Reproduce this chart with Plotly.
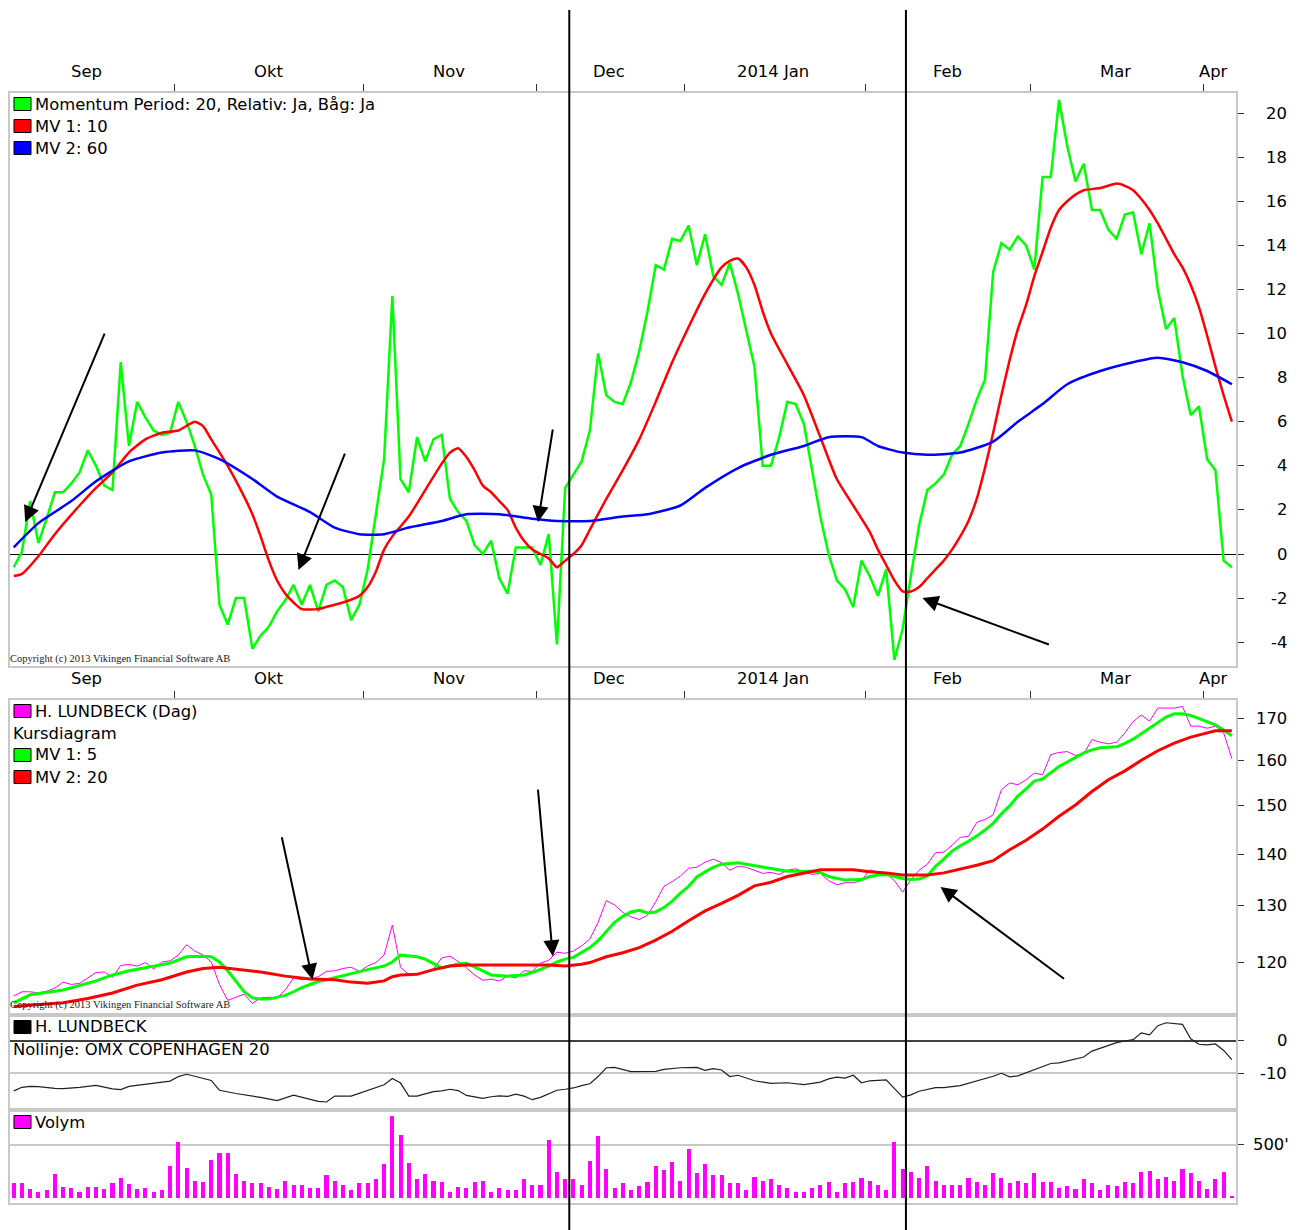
import numpy as np
import plotly.graph_objects as go

# page is rendered with an 8px body margin: figure origin sits at page (8, 8)
OFF = 8
W, H = 1292, 1222

# ---------------- data ----------------
days = list(range(149))

momentum = [-0.6, 0.1, 2.4, 0.5, 1.6, 2.8, 2.8, 3.2, 3.7, 4.7, 4.0, 3.1, 2.9, 8.7, 4.9, 6.9, 6.2, 5.6, 5.4, 5.5,
            6.9, 6.0, 4.9, 3.6, 2.7, -2.3, -3.2, -2.0, -2.0, -4.3, -3.7, -3.3, -2.6, -2.1, -1.4, -2.3, -1.4, -2.6,
            -1.4, -1.2, -1.5, -3.0, -2.3, -0.7, 1.8, 4.3, 11.7, 3.4, 2.8, 5.3, 4.2, 5.2, 5.4, 2.5, 1.9, 1.5, 0.4,
            0.0, 0.6, -1.1, -1.8, 0.3, 0.3, 0.3, -0.5, 0.9, -4.1, 3.0, 3.6, 4.2, 5.6, 9.1, 7.2, 6.9, 6.8, 7.8, 9.2,
            11.0, 13.1, 12.9, 14.3, 14.2, 14.9, 13.1, 14.5, 12.6, 12.2, 13.2, 11.8, 10.2, 8.5, 4.0, 4.0, 5.3, 6.9,
            6.8, 5.9, 3.8, 1.7, 0.0, -1.2, -1.6, -2.4, -0.3, -1.0, -1.9, -0.7, -4.8, -3.4, -1.0, 1.3, 2.9, 3.2, 3.6,
            4.5, 4.9, 5.9, 7.0, 7.9, 12.8, 14.1, 13.8, 14.4, 14.0, 12.9, 17.1, 17.1, 20.6, 18.5, 16.9, 17.7, 15.6,
            15.6, 14.7, 14.3, 15.4, 15.5, 13.6, 15.0, 12.0, 10.2, 10.7, 8.1, 6.3, 6.7, 4.3, 3.8, -0.3, -0.6]

mom_ma10_days = [0, 1, 3, 5, 8, 10, 12, 14, 16, 18, 20, 22, 23, 24, 26, 28, 29, 30, 31, 32, 33, 34, 35, 37, 38,
                 40, 42, 43, 44, 45, 46, 48, 50, 52, 53, 54, 55, 56, 57, 58, 59, 60, 61, 62, 63, 65, 66, 67, 68,
                 69, 70, 72, 74, 76, 78, 80, 82, 84, 86, 87, 88, 89, 90, 91, 92, 94, 96, 98, 100, 102, 104, 105,
                 106, 107, 108, 109, 110, 111, 112, 113, 114, 115, 116, 117, 118, 119, 120, 121, 122, 123, 124,
                 125, 126, 127, 128, 129, 130, 132, 134, 135, 136, 137, 138, 139, 140, 141, 142, 143, 144, 145,
                 146, 147, 148]
mom_ma10 = [-1.0, -0.9, -0.1, 0.9, 2.2, 3.0, 3.7, 4.6, 5.2, 5.5, 5.6, 6.0, 5.8, 5.2, 4.0, 2.6, 1.8, 0.8, -0.3,
            -1.2, -1.8, -2.2, -2.5, -2.5, -2.4, -2.2, -1.9, -1.5, -0.8, 0.2, 0.8, 1.7, 2.9, 4.1, 4.6, 4.8, 4.4,
            3.8, 3.1, 2.8, 2.4, 2.0, 1.2, 0.6, 0.2, -0.2, -0.6, -0.3, 0.0, 0.4, 1.1, 2.5, 3.8, 5.2, 6.9, 8.7,
            10.3, 11.8, 13.0, 13.3, 13.4, 13.0, 12.2, 11.0, 10.0, 8.6, 7.2, 5.3, 3.4, 2.2, 1.0, 0.2, -0.5, -1.2,
            -1.7, -1.7, -1.5, -1.1, -0.7, -0.3, 0.2, 0.8, 1.5, 2.5, 3.9, 5.5, 7.2, 8.8, 10.2, 11.3, 12.6, 13.7,
            14.8, 15.6, 16.0, 16.3, 16.5, 16.6, 16.8, 16.7, 16.5, 16.1, 15.6, 15.0, 14.3, 13.6, 13.0, 12.2,
            11.2, 9.9, 8.5, 7.2, 6.0]

mom_ma60_days = [0, 3, 7, 10, 14, 18, 22, 25, 29, 32, 36, 39, 42, 45, 48, 52, 55, 59, 63, 66, 70, 74, 77, 81,
                 84, 88, 92, 96, 99, 103, 105, 108, 111, 115, 119, 122, 125, 128, 132, 136, 139, 142, 145, 148]
mom_ma60 = [0.3, 1.4, 2.4, 3.3, 4.2, 4.6, 4.7, 4.3, 3.4, 2.6, 1.9, 1.2, 0.9, 0.9, 1.2, 1.5, 1.8, 1.8, 1.6, 1.5,
            1.5, 1.7, 1.8, 2.2, 3.0, 3.9, 4.5, 4.9, 5.3, 5.3, 4.9, 4.6, 4.5, 4.6, 5.1, 6.0, 6.8, 7.7, 8.3, 8.7,
            8.9, 8.7, 8.3, 7.7]

close = [114.3, 115.0, 115.0, 114.8, 115.1, 115.6, 116.6, 116.2, 116.4, 117.3, 118.2, 118.3, 117.4, 119.4,
         119.6, 119.3, 119.9, 118.8, 120.0, 120.2, 121.2, 123.0, 121.9, 121.2, 120.0, 116.2, 113.6, 114.1,
         114.6, 113.1, 114.0, 114.1, 114.0, 115.3, 117.3, 117.0, 117.1, 117.5, 118.4, 118.5, 118.9, 119.1,
         118.4, 119.3, 119.9, 121.2, 126.5, 119.1, 117.9, 118.0, 118.3, 118.8, 120.7, 121.0, 120.1, 119.0,
         117.8, 116.9, 117.1, 116.8, 117.6, 117.3, 118.5, 118.4, 119.8, 120.3, 121.7, 121.5, 121.9, 122.8,
         124.0, 127.0, 131.0, 130.2, 128.8, 128.0, 127.5, 128.3, 130.8, 133.7, 134.6, 135.7, 137.2, 137.4,
         138.4, 139.0, 138.3, 136.8, 137.6, 137.4, 136.8, 136.2, 136.4, 136.0, 136.8, 137.1, 136.5, 136.0,
         136.2, 134.8, 134.0, 134.4, 134.4, 134.8, 136.9, 136.4, 136.2, 134.8, 132.6, 135.0, 136.8, 138.0,
         140.3, 140.4, 141.8, 143.4, 143.6, 146.5, 147.1, 148.1, 153.5, 155.0, 154.6, 155.7, 157.2, 156.8,
         161.4, 161.9, 162.1, 161.2, 161.6, 164.9, 164.3, 163.9, 164.3, 166.5, 169.2, 170.8, 169.3, 172.5,
         172.5, 172.5, 172.9, 168.1, 168.1, 167.6, 168.1, 166.5, 160.5]

ma5_days = [0, 2, 6, 8, 10, 12, 14, 16, 18, 19, 21, 23, 24, 25, 26, 27, 28, 29, 30, 31, 32, 33, 34, 35, 36, 37,
            38, 40, 41, 43, 45, 46, 47, 48, 49, 50, 51, 52, 53, 54, 55, 56, 57, 58, 59, 60, 61, 62, 63, 64, 65,
            66, 67, 68, 69, 70, 71, 72, 73, 74, 75, 76, 77, 78, 79, 80, 81, 82, 83, 84, 85, 86, 88, 89, 90, 92,
            94, 97, 98, 99, 100, 101, 103, 104, 105, 106, 107, 108, 109, 110, 111, 112, 113, 114, 115, 116,
            117, 118, 119, 120, 121, 122, 123, 124, 125, 126, 127, 128, 129, 130, 131, 132, 134, 135, 136,
            137, 138, 139, 140, 141, 142, 143, 144, 145, 146, 147, 148]
ma5 = [113.2, 114.5, 115.3, 116.0, 116.8, 117.8, 118.5, 119.0, 119.5, 119.8, 120.9, 121.0, 120.9, 120.0,
       118.5, 116.7, 115.0, 114.0, 113.8, 113.8, 114.1, 114.4, 115.0, 115.7, 116.2, 116.7, 117.0, 117.7,
       118.0, 118.7, 119.3, 120.0, 121.2, 121.1, 120.9, 120.5, 119.8, 119.0, 119.3, 119.7, 119.8, 119.2,
       118.5, 117.8, 117.7, 117.6, 117.7, 117.8, 118.2, 118.7, 119.3, 120.0, 120.5, 120.8, 121.7, 122.5,
       123.7, 125.4, 127.0, 128.1, 128.9, 129.2, 128.7, 128.9, 129.7, 130.9, 132.4, 133.7, 135.5, 136.5,
       137.4, 138.0, 138.3, 138.0, 137.7, 137.1, 136.6, 136.6, 136.4, 135.6, 135.2, 134.9, 135.0, 135.6,
       135.9, 136.0, 135.6, 135.2, 135.0, 135.1, 135.7, 137.6, 139.0, 140.6, 141.7, 142.6, 143.7, 144.9,
       146.3, 148.3, 150.0, 152.1, 153.7, 155.4, 155.9, 157.2, 158.7, 159.7, 160.7, 161.8, 162.5, 163.0,
       163.2, 164.0, 165.0, 166.3, 167.6, 169.1, 170.3, 171.1, 171.1, 170.7, 169.9, 169.1, 168.4, 167.2,
       165.8]

ma20_days = [0, 3, 6, 9, 12, 15, 18, 21, 23, 25, 27, 30, 33, 36, 39, 41, 43, 45, 46, 47, 49, 51, 53, 55, 60,
             65, 67, 69, 70, 72, 74, 76, 78, 80, 82, 84, 86, 88, 90, 92, 94, 96, 98, 100, 102, 104, 106, 108,
             111, 113, 115, 117, 119, 121, 123, 125, 127, 129, 131, 133, 135, 137, 139, 141, 143, 145, 146, 148]
ma20 = [112.6, 112.9, 113.2, 113.9, 114.8, 116.1, 117.0, 118.3, 118.9, 119.1, 118.8, 118.3, 117.6, 117.1,
        117.0, 116.6, 116.4, 116.8, 117.5, 117.8, 117.9, 118.7, 119.3, 119.5, 119.5, 119.5, 119.3, 119.6,
        119.9, 120.9, 121.6, 122.5, 123.8, 125.4, 127.3, 129.1, 130.5, 132.0, 133.8, 134.5, 135.6, 136.3,
        136.9, 136.9, 136.9, 136.5, 136.3, 135.9, 135.9, 136.3, 137.0, 137.8, 138.7, 140.9, 142.8, 145.1,
        147.8, 150.2, 153.1, 155.7, 157.7, 160.1, 162.3, 164.1, 165.5, 166.6, 167.0, 167.0]

rel_days = [0, 1, 2, 3, 5, 6, 8, 10, 12, 13, 14, 17, 19, 20, 21, 22, 24, 25, 27, 30, 32, 34, 35, 37, 38, 39,
            41, 43, 45, 46, 47, 48, 49, 51, 52, 53, 54, 55, 57, 58, 59, 60, 61, 62, 63, 64, 65, 66, 67, 68, 69,
            70, 71, 72, 73, 75, 78, 79, 81, 83, 84, 85, 86, 87, 88, 90, 92, 94, 96, 98, 99, 100, 101, 102, 103,
            104, 106, 107, 108, 109, 110, 112, 113, 115, 116, 118, 119, 120, 121, 122, 124, 126, 127, 130, 131,
            133, 134, 135, 136, 137, 138, 139, 140, 142, 143, 144, 145, 146, 147, 148]
rel = [-15.4, -14.3, -14.0, -14.1, -14.6, -14.7, -14.3, -13.7, -14.8, -15.0, -14.0, -13.1, -12.4, -11.0,
       -10.3, -10.9, -12.2, -15.2, -16.2, -17.4, -18.4, -16.7, -17.3, -18.6, -18.8, -17.0, -17.0, -15.3,
       -13.5, -11.6, -13.0, -17.0, -17.0, -15.6, -15.4, -14.9, -15.3, -16.8, -17.7, -17.2, -16.9, -17.1,
       -16.4, -17.0, -18.1, -17.4, -16.2, -15.2, -14.9, -14.5, -13.8, -13.2, -11.0, -8.3, -8.2, -9.5, -9.4,
       -8.8, -8.3, -8.2, -9.1, -8.6, -9.0, -11.0, -10.6, -12.3, -13.1, -12.9, -13.5, -12.7, -11.7, -11.2,
       -11.5, -10.6, -12.9, -12.3, -12.0, -14.8, -17.3, -16.6, -15.5, -14.4, -14.4, -13.8, -13.1, -11.7,
       -10.9, -10.0, -11.1, -10.8, -9.0, -7.0, -6.8, -5.0, -3.2, -1.5, -0.6, -0.1, 0.3, 2.4, 1.8, 4.6, 5.5,
       5.0, 0.6, -1.1, -1.3, -1.0, -3.0, -5.8]

volume_k = [134, 143, 80, 57, 70, 223, 105, 92, 54, 105, 105, 80, 134, 184, 130, 80, 92, 57, 70, 302, 525, 277,
            159, 146, 356, 423, 423, 226, 159, 134, 134, 105, 80, 159, 121, 121, 92, 92, 210, 159, 121, 67, 134,
            134, 172, 315, 773, 591, 331, 172, 223, 159, 146, 54, 105, 92, 146, 159, 54, 92, 67, 67, 172, 121,
            121, 545, 239, 175, 175, 124, 347, 582, 267, 95, 137, 70, 111, 150, 296, 258, 334, 162, 464, 229,
            321, 216, 216, 137, 137, 70, 200, 162, 175, 124, 95, 57, 57, 95, 124, 150, 57, 137, 150, 188, 162,
            124, 70, 528, 267, 242, 188, 296, 162, 124, 124, 124, 188, 150, 124, 229, 188, 137, 162, 137, 229,
            150, 150, 95, 111, 83, 175, 137, 70, 124, 111, 150, 137, 242, 254, 175, 200, 162, 267, 229, 162, 83,
            175, 242, 13]

month_ticks = [19.5, 42.5, 63.5, 81.5, 103.5, 123.5, 144.5]
month_labels = ["Sep", "Okt", "Nov", "Dec", "2014 Jan", "Feb", "Mar", "Apr"]
month_label_pos = [8.8, 30.9, 52.9, 72.3, 92.3, 113.4, 133.8, 145.8]
signal_days = [67.5, 108.4]

mom_ticks = [-4, -2, 0, 2, 4, 6, 8, 10, 12, 14, 16, 18, 20]
price_ticks = [120, 130, 140, 150, 160, 170]
rel_ticks = [0, -10]
vol_ticks = [500]

# ---------------- helpers (page pixels -> paper fractions) ----------------
def py(p):
    return 1 - (p - OFF) / H

def pxf(p):
    return (p - OFF) / W

FONT = "DejaVu Sans"
FS = 16.4
XR = [-0.45, 148.5]
XDOM = [pxf(10), pxf(1236)]
BORDER = "#c8c8c8"
TICKC = "#303030"

fig = go.Figure()

# momentum panel
fig.add_trace(go.Scatter(x=days, y=momentum, mode="lines", line=dict(color="#00ff00", width=2.5),
                         xaxis="x", yaxis="y"))
fig.add_trace(go.Scatter(x=mom_ma10_days, y=mom_ma10, mode="lines",
                         line=dict(color="#ff0000", width=2.5, shape="spline", smoothing=0.6),
                         xaxis="x", yaxis="y"))
fig.add_trace(go.Scatter(x=mom_ma60_days, y=mom_ma60, mode="lines",
                         line=dict(color="#0000ff", width=2.5, shape="spline", smoothing=0.6),
                         xaxis="x", yaxis="y"))
# price panel
fig.add_trace(go.Scatter(x=days, y=close, mode="lines", line=dict(color="#ff00ff", width=1),
                         xaxis="x2", yaxis="y2"))
fig.add_trace(go.Scatter(x=ma5_days, y=ma5, mode="lines", line=dict(color="#00ff00", width=3),
                         xaxis="x2", yaxis="y2"))
fig.add_trace(go.Scatter(x=ma20_days, y=ma20, mode="lines", line=dict(color="#ff0000", width=3),
                         xaxis="x2", yaxis="y2"))
# relative panel
fig.add_trace(go.Scatter(x=rel_days, y=rel, mode="lines", line=dict(color="#202020", width=1.2),
                         xaxis="x3", yaxis="y3"))
# volume panel
fig.add_trace(go.Bar(x=days, y=volume_k, width=0.5, marker=dict(color="#ff00ff", line=dict(width=0)),
                     xaxis="x4", yaxis="y4"))

def xaxis_cfg(anchor, ticks):
    d = dict(domain=XDOM, range=XR, anchor=anchor, showgrid=False, zeroline=False,
             showline=True, mirror=True, linecolor=BORDER, linewidth=2, showticklabels=False,
             fixedrange=True)
    if ticks:
        d.update(side="top", tickmode="array", tickvals=month_ticks, ticks="outside",
                 ticklen=7, tickwidth=1, tickcolor=TICKC)
    else:
        d.update(ticks="")
    return d

def yaxis_cfg(anchor, dom, rng, tickvals, **kw):
    d = dict(domain=dom, range=rng, anchor=anchor, side="right", tickmode="array", tickvals=tickvals,
             ticks="outside", ticklen=6, tickwidth=1, tickcolor=TICKC, showticklabels=False,
             showline=True, mirror=True, linecolor=BORDER, linewidth=2, showgrid=False,
             zeroline=False, fixedrange=True)
    d.update(kw)
    return d

Y1 = [py(666), py(93)]
Y2 = [py(1015), py(700)]
Y3 = [py(1110), py(1015)]
Y4 = [py(1203), py(1110)]

fig.update_layout(
    width=W, height=H, margin=dict(l=0, r=0, t=0, b=0),
    paper_bgcolor="white", plot_bgcolor="white", showlegend=False,
    bargap=0,
    xaxis=xaxis_cfg("y", True),
    xaxis2=xaxis_cfg("y2", True),
    xaxis3=xaxis_cfg("y3", False),
    xaxis4=xaxis_cfg("y4", False),
    yaxis=yaxis_cfg("x", Y1, [-5.08, 20.91], mom_ticks, zeroline=True, zerolinecolor="#000000",
                    zerolinewidth=1),
    yaxis2=yaxis_cfg("x2", Y2, [2.04628, 2.24181], price_ticks, type="log"),
    yaxis3=yaxis_cfg("x3", Y3, [-21.26, 7.88], rel_ticks, showgrid=True, gridcolor=BORDER, gridwidth=2,
                     zeroline=True, zerolinecolor="#404040", zerolinewidth=2),
    yaxis4=yaxis_cfg("x4", Y4, [-52, 833], vol_ticks, showgrid=True, gridcolor=BORDER, gridwidth=2),
)

ann = []
shapes = []
LBL_X = pxf(1289)
tfont = dict(family=FONT, size=FS, color="black")

# right-aligned tick labels
for v in mom_ticks:
    ann.append(dict(x=LBL_X, xref="paper", y=v, yref="y", text=str(v), showarrow=False,
                    xanchor="right", yanchor="middle", font=tfont))
for v in price_ticks:
    ann.append(dict(x=LBL_X, xref="paper", y=np.log10(v), yref="y2", text=str(v), showarrow=False,
                    xanchor="right", yanchor="middle", font=tfont))
for v in rel_ticks:
    ann.append(dict(x=LBL_X, xref="paper", y=v, yref="y3", text=str(v), showarrow=False,
                    xanchor="right", yanchor="middle", font=tfont))
for v in vol_ticks:
    ann.append(dict(x=pxf(1291), xref="paper", y=v, yref="y4", text=f"{v}'", showarrow=False,
                    xanchor="right", yanchor="middle", font=tfont))

# month labels (two rows)
for row_y in (71, 678):
    for lab, pos in zip(month_labels, month_label_pos):
        ann.append(dict(x=pos, xref="x", y=py(row_y), yref="paper", text=lab, showarrow=False,
                        xanchor="center", yanchor="middle", font=tfont))

# legends
legend_items = [
    ("#00ff00", "Momentum Period: 20, Relativ: Ja, Båg: Ja", 104),
    ("#ff0000", "MV 1: 10", 126),
    ("#0000ff", "MV 2: 60", 148),
    ("#ff00ff", "H. LUNDBECK (Dag)", 711),
    (None, "Kursdiagram", 733),
    ("#00ff00", "MV 1: 5", 755),
    ("#ff0000", "MV 2: 20", 777),
    ("#000000", "H. LUNDBECK", 1027),
    (None, "Nollinje: OMX COPENHAGEN 20", 1049),
    ("#ff00ff", "Volym", 1122),
]
for col, text, yc in legend_items:
    if col is not None:
        shapes.append(dict(type="rect", xref="paper", yref="paper", x0=pxf(14), x1=pxf(31),
                           y0=py(yc + 6.5), y1=py(yc - 6.5), fillcolor=col,
                           line=dict(color="black", width=1), layer="above"))
        x0 = 33
    else:
        x0 = 11
    ann.append(dict(x=pxf(x0), xref="paper", y=py(yc), yref="paper", text=text, showarrow=False,
                    xanchor="left", yanchor="middle", font=tfont))

# copyright
for yc in (659, 1005):
    ann.append(dict(x=pxf(8), xref="paper", y=py(yc), yref="paper",
                    text="Copyright (c) 2013 Vikingen Financial Software AB", showarrow=False,
                    xanchor="left", yanchor="middle",
                    font=dict(family="Liberation Serif", size=10.5, color="#1a1a1a")))

# arrows: (tip day, tip value, axis, tail dx px, tail dy px)
arrows = [
    (1.4, 1.45, "y", 80, -190),
    (34.6, -0.73, "y", 47, -118),
    (63.7, 1.45, "y", 15, -94),
    (110.4, -2.0, "y", 128, 47),
    (36.3, 117.0, "y2", -31, -144),
    (65.5, 121.0, "y2", -15, -168),
    (112.6, 133.6, "y2", 125, 93),
]
for d, v, yr, dx, dy in arrows:
    yy = np.log10(v) if yr == "y2" else v
    ann.append(dict(x=d, xref="x", y=yy, yref=yr, ax=dx, ay=dy, text="", showarrow=True,
                    arrowhead=2, arrowsize=1.6, arrowwidth=2, arrowcolor="black", standoff=0))

# signal vertical lines through the whole figure
for d in signal_days:
    shapes.append(dict(type="line", xref="x", yref="paper", x0=d, x1=d, y0=0, y1=py(10),
                       line=dict(color="black", width=2), layer="above"))

fig.update_layout(annotations=ann, shapes=shapes)
fig.write_html("out.html", config={"displayModeBar": False})
